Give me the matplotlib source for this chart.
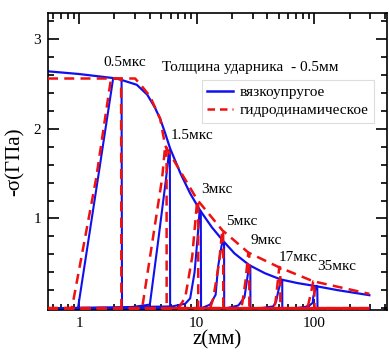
import numpy as np
import matplotlib
matplotlib.use("Agg")
import matplotlib.pyplot as plt
from matplotlib.ticker import FixedLocator, NullFormatter, LogLocator, MultipleLocator
from matplotlib.lines import Line2D

plt.rcParams['font.family'] = ['Liberation Serif', 'DejaVu Serif']
plt.rcParams['mathtext.fontset'] = 'stix'

Z_MIN, Z_MAX = 0.545, 294.0

# Envelopes (peak stress vs distance)
env_visco_z = [0.545, 1.0, 2.1, 3.1, 3.8, 4.4, 4.9, 5.4, 5.95, 7.3, 8.8, 10.7, 13.5, 16.8, 21, 28, 38, 52, 72, 104, 160, 294]
env_visco_s = [2.64, 2.61, 2.56, 2.49, 2.38, 2.24, 2.11, 1.95, 1.78, 1.50, 1.28, 1.09, 0.90, 0.75, 0.61, 0.48, 0.39, 0.32, 0.28, 0.245, 0.20, 0.145]

env_hydro_z = [0.545, 3.0, 3.44, 4.02, 4.9, 5.4, 7.7, 10.1, 16.5, 27.5, 50.4, 98, 294]
env_hydro_s = [2.56, 2.56, 2.47, 2.36, 2.11, 1.81, 1.47, 1.21, 0.87, 0.62, 0.455, 0.30, 0.16]

# Stress profiles at times (viscoelastic)
visco_z = [
    [0.84, 0.92, 0.98, 1.45, 1.95, 2.30, 2.32],
    [2.4, 4.0, 4.71, 5.5, 5.84, 5.92, 5.95],
    [6.2, 8.0, 8.81, 9.6, 10.2, 10.6, 10.85, 10.9],
    [11.0, 13.0, 14.5, 15.2, 16.3, 16.8, 17.1, 17.15],
    [18.0, 22.6, 25.5, 26.9, 28.0, 28.6, 28.65],
    [35.0, 44.8, 47.5, 49.4, 52.4, 53.4, 53.45],
    [70.0, 88.9, 97.0, 98.1, 104.0, 106.0, 106.5],
]
visco_s = [
    [0.0, -0.02, 0.0, 1.45, 2.56, 2.55, 0.0],
    [0.0, 0.04, 0.75, 1.45, 1.76, 1.75, 0.0],
    [0.02, 0.05, 0.11, 0.4, 0.8, 1.09, 1.08, 0.0],
    [0.0, 0.04, 0.15, 0.46, 0.70, 0.74, 0.73, 0.0],
    [0.0, 0.03, 0.12, 0.33, 0.48, 0.47, 0.0],
    [0.0, 0.02, 0.08, 0.19, 0.32, 0.31, 0.0],
    [0.0, 0.02, 0.06, 0.13, 0.25, 0.245, 0.0],
]

# Stress profiles at times (hydrodynamic)
hydro_z = [
    [0.87, 1.40, 1.87, 2.28, 2.29],
    [3.44, 5.09, 5.40, 5.55, 5.56],
    [7.0, 8.0, 9.16, 10.1, 10.3, 10.32],
    [13.0, 13.8, 15.5, 16.5, 16.8, 16.85],
    [23.0, 24.4, 26.0, 27.5, 28.0, 28.05],
    [44.0, 46.6, 48.5, 50.4, 51.4, 51.45],
    [85.0, 88.9, 94.0, 98.0, 100.0, 100.5],
]
hydro_s = [
    [0.0, 1.45, 2.56, 2.56, 0.0],
    [0.0, 1.45, 1.81, 1.80, 0.0],
    [0.0, 0.12, 0.57, 1.20, 1.19, 0.0],
    [0.0, 0.10, 0.50, 0.87, 0.86, 0.0],
    [0.0, 0.05, 0.30, 0.62, 0.61, 0.0],
    [0.0, 0.05, 0.25, 0.46, 0.45, 0.0],
    [0.0, 0.04, 0.18, 0.30, 0.30, 0.0],
]

time_labels = ['0.5мкс', '1.5мкс', '3мкс', '5мкс', '9мкс', '17мкс', '35мкс']
label_z = [2.46, 9.17, 14.9, 24.4, 39.1, 73, 154]
label_s = [2.74, 1.92, 1.32, 0.97, 0.76, 0.57, 0.46]

BLUE = '#1010ee'
RED = '#ee1111'

fig = plt.figure(figsize=(3.89, 3.54), dpi=100)
ax = fig.add_axes([48/389, 1 - 310/354, 339/389, 297/354])

for z, s in zip(visco_z, visco_s):
    zz = np.concatenate([[Z_MIN], z, [Z_MAX]])
    ss = np.concatenate([[0.0], s, [0.0]])
    ax.plot(zz, ss, color=BLUE, lw=1.5, zorder=2)
ax.plot(env_visco_z, env_visco_s, color=BLUE, lw=1.6, zorder=2)

for z, s in zip(hydro_z, hydro_s):
    zz = np.concatenate([[Z_MIN], z, [Z_MAX]])
    ss = np.concatenate([[0.0], s, [0.0]])
    ax.plot(zz, ss, color=RED, lw=1.8, ls=(0, (4, 2.5)), zorder=3)
ax.plot(env_hydro_z, env_hydro_s, color=RED, lw=1.8, ls=(0, (4, 2.5)), zorder=3)

for t, zx, sy in zip(time_labels, label_z, label_s):
    ax.text(zx, sy, t, fontsize=11, ha='center', va='center')

ax.text(0.336, 0.815, 'Толщина ударника  - 0.5мм', transform=ax.transAxes,
        fontsize=11, ha='left', va='center')

ax.set_xscale('log')
ax.set_xlim(0.545, 415)
ax.set_ylim(-0.02, 3.29)

ax.xaxis.set_major_locator(FixedLocator([1, 10, 100]))
ax.set_xticklabels(['1', '10', '100'])
ax.xaxis.set_minor_locator(LogLocator(base=10, subs=np.arange(2, 10)))
ax.xaxis.set_minor_formatter(NullFormatter())
ax.yaxis.set_major_locator(FixedLocator([1, 2, 3]))
ax.set_yticklabels(['1', '2', '3'])
ax.yaxis.set_minor_locator(MultipleLocator(0.2))

ax.tick_params(which='both', direction='in', top=True, right=True, width=1.2, labelsize=11)
ax.tick_params(which='major', length=8, pad=5)
ax.tick_params(which='minor', length=4)
for sp in ax.spines.values():
    sp.set_linewidth(1.2)

ax.set_xlabel('z(мм)', fontsize=15, labelpad=0)
ax.set_ylabel('-σ(ГПа)', fontsize=15, labelpad=6)

handles = [Line2D([], [], color=BLUE, lw=1.8),
           Line2D([], [], color=RED, lw=1.8, ls=(0, (3, 2)))]
leg = ax.legend(handles, ['вязкоупругое', 'гидродинамическое'], loc='upper left',
                bbox_to_anchor=(0.454, 0.774), borderaxespad=0, fontsize=11,
                handlelength=1.7, handletextpad=0.4, labelspacing=0.3,
                borderpad=0.35, fancybox=False, framealpha=1)
leg.get_frame().set_edgecolor('#dddddd')
leg.get_frame().set_linewidth(0.8)

fig.savefig('out.png', dpi=100)
